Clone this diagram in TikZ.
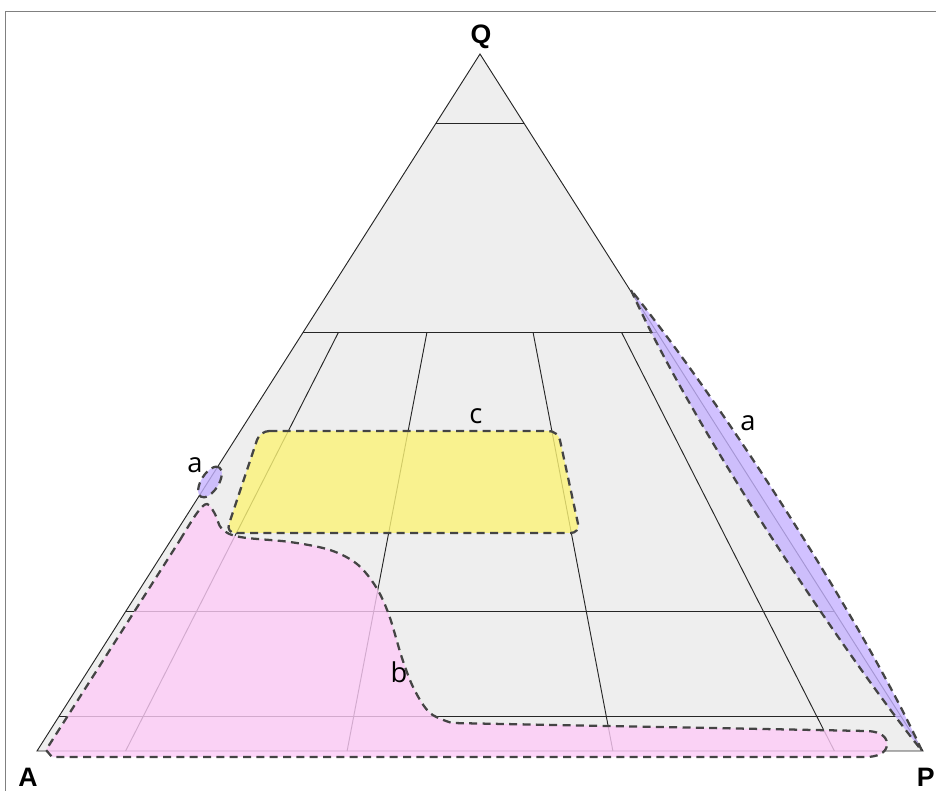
\documentclass[tikz,border=0pt]{standalone}
\usepackage{fontspec}
\setmainfont{Open Sans}
\newfontfamily\capfont{Liberation Sans}
\usepackage{tikz}
\usetikzlibrary{calc, shapes.geometric}
\definecolor{fieldgray}{RGB}{238, 238, 238}
\definecolor{framegray}{RGB}{128, 128, 128}
\definecolor{edgegray}{RGB}{68, 68, 68}
\definecolor{zonepink}{RGB}{253, 203, 247}
\definecolor{zoneyellow}{RGB}{252, 244, 120}
\definecolor{zonepurple}{RGB}{197, 178, 255}

\begin{document}
\begin{tikzpicture}[
    x=0.75pt, y=-0.75pt,
    grid/.style={black!85, line width=0.7pt},
    zone/.style={draw=edgegray, line width=1.7pt, dash pattern=on 6pt off 4pt, fill opacity=0.8},
    corner/.style={font=\capfont\bfseries\fontsize{20}{20}\selectfont, inner sep=0pt},
    zonelabel/.style={font=\fontsize{20.5}{20.5}\selectfont, inner sep=0pt}
]
\useasboundingbox (0,0) rectangle (936,791);
% frame
\draw[framegray, line width=0.75pt] (5,791) -- (5,12) -- (936,12);

% triangle
\coordinate (A) at (37,751);
\coordinate (P) at (923,751);
\coordinate (Q) at (480,54);
\coordinate (A6) at ($(A)!0.6!(Q)$);
\coordinate (P6) at ($(P)!0.6!(Q)$);
\fill[fieldgray] (A) -- (P) -- (Q) -- cycle;

% Q = 90, 60, 20, 5
\foreach \q in {0.9, 0.6, 0.2, 0.05}
  \draw[grid] ($(A)!\q!(Q)$) -- ($(P)!\q!(Q)$);
% P/(A+P) = 10, 35, 65, 90
\foreach \r in {0.1, 0.35, 0.65, 0.9}
  \draw[grid] ($(A)!\r!(P)$) -- ($(A6)!\r!(P6)$);
\draw[grid] (A) -- (P) -- (Q) -- cycle;

% field b
\draw[zone, fill=zonepink] plot[smooth, tension=0.55] coordinates {(180,540) (197,513) (207,504) (215,514) (222,529) (240,537) (290,542) (330,550) (357,564) (376,587) (389,615) (402,658) (414,689) (430,713) (452,723)}
  -- (866,731) to[out=0, in=90] (887,744) to[out=-90, in=0] (866,757) -- (52,757) -- (46,750) -- cycle;

% field c
\draw[zone, fill=zoneyellow, rounded corners=7pt] (260,431) -- (558,431) -- (580,533) -- (226,533) -- cycle;

% fields a
\draw[zone, fill=zonepurple] (631,290) .. controls (689,420) and (834,640) .. (922,751) .. controls (872,640) and (735,420) .. (631,290) -- cycle;
\node[zone, fill=zonepurple, ellipse, minimum width=26pt, minimum height=13pt, inner sep=0pt, rotate=57.6] (smalla) at (210,482) {};

% labels
\node[corner] (labq) at (481,37) {Q};
\node[corner] (laba) at (28,777) {A};
\node[corner, anchor=east] (labp) at (935,777) {P};
\node[zonelabel] (texta1) at (748,423) {a};
\node[zonelabel] (texta2) at (195,465) {a};
\node[zonelabel] (textb) at (399,672) {b};
\node[zonelabel] (textc) at (476,416) {c};
\end{tikzpicture}
\end{document}
